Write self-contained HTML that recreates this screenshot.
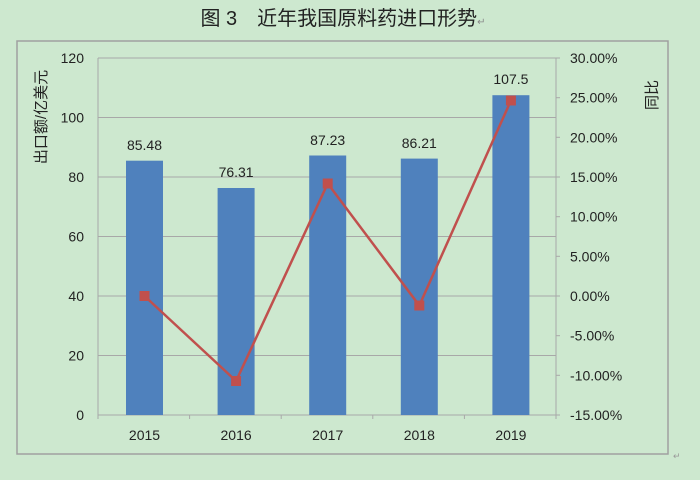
<!DOCTYPE html>
<html><head><meta charset="utf-8"><style>
html,body{margin:0;padding:0;background:#cde8cf;}
svg{display:block;font-family:"Liberation Sans","Noto Sans CJK SC",sans-serif;}
</style></head><body>
<svg width="700" height="480" viewBox="0 0 700 480">
<rect width="700" height="480" fill="#cde8cf"/>
<text x="343" y="25" font-size="20" text-anchor="middle" fill="#222" font-family="Liberation Sans,Noto Sans CJK SC,sans-serif">图 3　近年我国原料药进口形势<tspan font-size="10" fill="#888">↵</tspan></text>
<rect x="17" y="41" width="651" height="413" fill="none" stroke="#a0a0a0" stroke-width="1.5"/>
<text x="673" y="459" font-size="9" fill="#999">↵</text>
<g stroke="#a8a8a8" stroke-width="1">
<line x1="98" y1="58" x2="556" y2="58"/>
<line x1="98" y1="117.5" x2="556" y2="117.5"/>
<line x1="98" y1="177" x2="556" y2="177"/>
<line x1="98" y1="236.5" x2="556" y2="236.5"/>
<line x1="98" y1="296" x2="556" y2="296"/>
<line x1="98" y1="355.5" x2="556" y2="355.5"/>
<line x1="98" y1="58" x2="98" y2="415"/>
<line x1="556" y1="58" x2="556" y2="415"/>
<line x1="98" y1="415" x2="556" y2="415"/>
<line x1="189.6" y1="415" x2="189.6" y2="419"/>
<line x1="281.2" y1="415" x2="281.2" y2="419"/>
<line x1="372.8" y1="415" x2="372.8" y2="419"/>
<line x1="464.4" y1="415" x2="464.4" y2="419"/>
<line x1="98" y1="415" x2="98" y2="419"/>
<line x1="556" y1="415" x2="556" y2="419"/>
<line x1="556" y1="58" x2="560" y2="58"/><line x1="556" y1="97.7" x2="560" y2="97.7"/><line x1="556" y1="137.3" x2="560" y2="137.3"/><line x1="556" y1="177" x2="560" y2="177"/><line x1="556" y1="216.7" x2="560" y2="216.7"/><line x1="556" y1="256.3" x2="560" y2="256.3"/><line x1="556" y1="296" x2="560" y2="296"/><line x1="556" y1="335.7" x2="560" y2="335.7"/><line x1="556" y1="375.3" x2="560" y2="375.3"/><line x1="556" y1="415" x2="560" y2="415"/>
</g>
<g fill="#4f81bd">
<rect x="126" y="160.7" width="37" height="254.3"/>
<rect x="217.6" y="188" width="37" height="227"/>
<rect x="309.2" y="155.5" width="37" height="259.5"/>
<rect x="400.8" y="158.6" width="37" height="256.4"/>
<rect x="492.4" y="95.2" width="37" height="319.8"/>
</g>
<polyline points="144.5,296 236.1,381 327.7,183.5 419.3,305.5 510.9,100.5" fill="none" stroke="#c0504d" stroke-width="2.5"/>
<g fill="#c0504d">
<rect x="139.5" y="291" width="10" height="10"/><rect x="231.1" y="376" width="10" height="10"/><rect x="322.7" y="178.5" width="10" height="10"/><rect x="414.3" y="300.5" width="10" height="10"/><rect x="505.9" y="95.5" width="10" height="10"/>
</g>
<g font-size="14" fill="#222" text-anchor="middle">
<text x="144.5" y="150">85.48</text><text x="236.1" y="177">76.31</text><text x="327.7" y="145">87.23</text><text x="419.3" y="148">86.21</text><text x="510.9" y="84">107.5</text>
<text x="144.5" y="440">2015</text><text x="236.1" y="440">2016</text><text x="327.7" y="440">2017</text><text x="419.3" y="440">2018</text><text x="510.9" y="440">2019</text>
</g>
<g font-size="14" fill="#222" text-anchor="end">
<text x="84" y="63">120</text><text x="84" y="122.5">100</text><text x="84" y="182">80</text><text x="84" y="241.5">60</text><text x="84" y="301">40</text><text x="84" y="360.5">20</text><text x="84" y="420">0</text>
</g>
<g font-size="14" fill="#222">
<text x="570" y="63">30.00%</text><text x="570" y="102.7">25.00%</text><text x="570" y="142.3">20.00%</text><text x="570" y="182">15.00%</text><text x="570" y="221.7">10.00%</text><text x="570" y="261.3">5.00%</text><text x="570" y="301">0.00%</text><text x="570" y="340.7">-5.00%</text><text x="570" y="380.3">-10.00%</text><text x="570" y="420">-15.00%</text>
</g>
<text transform="translate(46,117) rotate(-90)" font-size="15" fill="#222" text-anchor="middle">出口额/亿美元</text>
<text transform="translate(657,95) rotate(-90)" font-size="15" fill="#222" text-anchor="middle">同比</text>
</svg>
</body></html>
